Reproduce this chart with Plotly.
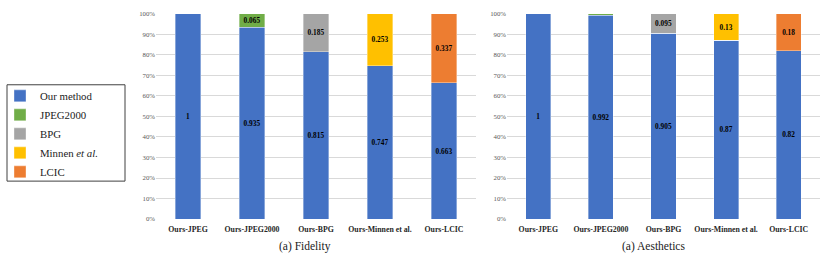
import plotly.graph_objects as go

categories = ["Ours-JPEG", "Ours-JPEG2000", "Ours-BPG", "Ours-Minnen et al.", "Ours-LCIC"]

fid_ours = [1, 0.935, 0.815, 0.747, 0.663]
fid_jpeg2000 = [0, 0.065, 0, 0, 0]
fid_bpg = [0, 0, 0.185, 0, 0]
fid_minnen = [0, 0, 0, 0.253, 0]
fid_lcic = [0, 0, 0, 0, 0.337]

aes_ours = [1, 0.992, 0.905, 0.87, 0.82]
aes_jpeg2000 = [0, 0.008, 0, 0, 0]
aes_bpg = [0, 0, 0.095, 0, 0]
aes_minnen = [0, 0, 0, 0.13, 0]
aes_lcic = [0, 0, 0, 0, 0.18]

series_names = ["Our method", "JPEG2000", "BPG", "Minnen <i>et al.</i>", "LCIC"]
colors = ["#4472C4", "#70AD47", "#A5A5A5", "#FFC000", "#ED7D31"]

W, H = 830, 261
serif = "Liberation Serif"

fig = go.Figure()

def label(v, min_show=0.02):
    return [("%g" % x) if x >= min_show else "" for x in v]

panels = [
    ("x", "y", [fid_ours, fid_jpeg2000, fid_bpg, fid_minnen, fid_lcic], True),
    ("x2", "y2", [aes_ours, aes_jpeg2000, aes_bpg, aes_minnen, aes_lcic], False),
]
for xa, ya, vals, show in panels:
    for name, col, v in zip(series_names, colors, vals):
        fig.add_trace(go.Bar(
            x=categories, y=v, name=name,
            marker=dict(color=col, line=dict(color="rgba(255,255,255,0.45)", width=0.8)),
            text=label(v), textposition="inside", insidetextanchor="middle",
            textangle=0, constraintext="none",
            texttemplate="<b>%{text}</b>",
            insidetextfont=dict(family=serif, size=7.3, color="black"),
            xaxis=xa, yaxis=ya, showlegend=show,
            hoverinfo="skip",
        ))

ydom = [40 / H, 251 / H]
axis_common_y = dict(range=[0, 1], dtick=0.1, tickformat=".0%", showgrid=True,
                     gridcolor="#D9D9D9", gridwidth=1, zeroline=False,
                     tickfont=dict(family=serif, size=6.8, color="#595959"),
                     showline=False, domain=ydom, ticks="", fixedrange=True)
axis_common_x = dict(showgrid=False, showline=False, ticks="outside", ticklen=3,
                     tickcolor="rgba(0,0,0,0)", fixedrange=True,
                     tickfont=dict(family=serif, size=7.8, color="#262626"),
                     tickvals=categories,
                     ticktext=["<b>%s</b>" % c for c in categories])

fig.update_layout(
    width=W, height=H, margin=dict(l=0, r=0, t=0, b=0),
    paper_bgcolor="white", plot_bgcolor="white",
    barmode="stack", bargap=0.6,
    xaxis=dict(domain=[156 / W, 476 / W], anchor="y", **axis_common_x),
    xaxis2=dict(domain=[507 / W, 820 / W], anchor="y2", **axis_common_x),
    yaxis=dict(anchor="x", **axis_common_y),
    yaxis2=dict(anchor="x2", **axis_common_y),
    legend=dict(x=0, y=1 - 79.5 / H, xanchor="left", yanchor="top",
                traceorder="normal", borderwidth=0,
                bgcolor="rgba(0,0,0,0)", font=dict(family=serif, size=10.8, color="#222"),
                tracegroupgap=0),
    showlegend=True,
    shapes=[dict(type="rect", xref="paper", yref="paper",
                 x0=7 / W, x1=125 / W, y0=1 - 182 / H, y1=1 - 83 / H,
                 line=dict(color="#404040", width=1), fillcolor="white", layer="below")],
    annotations=[
        dict(text="(a) Fidelity", x=305 / W, y=1 - 249 / H, xref="paper", yref="paper",
             showarrow=False, font=dict(family=serif, size=11.5, color="#222"),
             xanchor="center", yanchor="middle"),
        dict(text="(a) Aesthetics", x=653 / W, y=1 - 249 / H, xref="paper", yref="paper",
             showarrow=False, font=dict(family=serif, size=11.5, color="#222"),
             xanchor="center", yanchor="middle"),
    ],
)

fig.write_html("out.html", config={"displayModeBar": False, "staticPlot": True},
               post_script="document.body.style.margin='0';")
